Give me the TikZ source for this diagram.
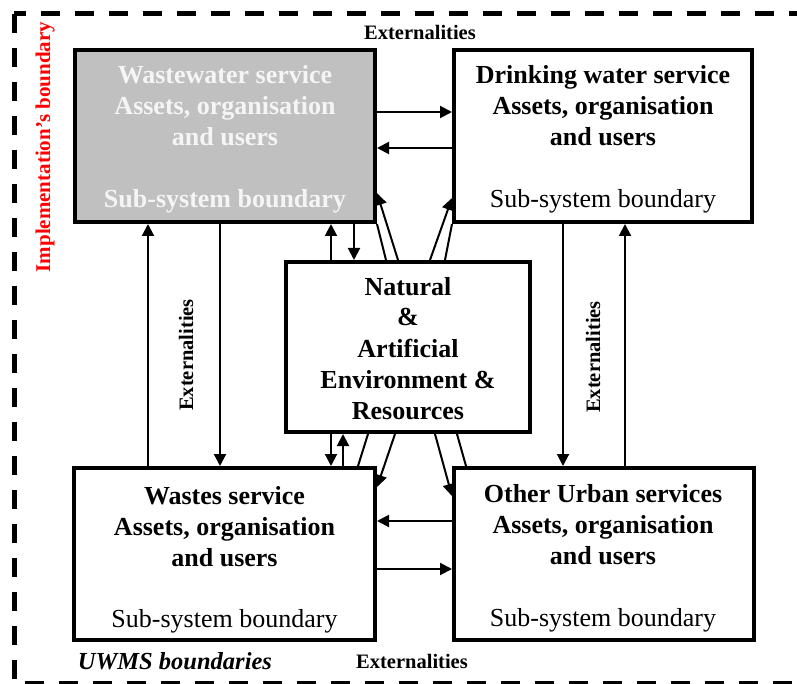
\documentclass[tikz,border=0pt]{standalone}
\usepackage{fontspec}
\setmainfont{Liberation Serif}
\usetikzlibrary{arrows.meta}
\definecolor{boxgray}{RGB}{192,192,192}
\definecolor{lighttext}{RGB}{245,245,245}
\begin{document}
\begin{tikzpicture}[x=1pt,y=-1pt,
  box/.style={draw, line width=4pt, inner sep=0pt, fill=white},
  big/.style={font=\fontsize{26}{31}\selectfont\bfseries, anchor=base, inner sep=0pt},
  small/.style={font=\fontsize{26}{31}\selectfont, anchor=base, inner sep=0pt},
  conn/.style={line width=2pt},
  arr/.style={line width=2pt, -{Triangle[length=12pt,width=12pt]}},
  ext/.style={font=\fontsize{20.5}{24}\selectfont\bfseries, inner sep=0pt}]
\useasboundingbox (0,0) rectangle (797,684);
\begin{scope}
\clip (0,0) rectangle (797,684);
\draw[line width=5pt, dash pattern=on 19pt off 15pt] (14,14) rectangle (830,683);
\end{scope}

% boxes
\node[box, fill=boxgray, minimum width=300pt, minimum height=172pt] (ww) at (225,136) {};
\node[box, minimum width=298pt, minimum height=172pt] (dw) at (603,136) {};
\node[box, minimum width=244pt, minimum height=170pt] (cen) at (408,347) {};
\node[box, minimum width=301pt, minimum height=172pt] (ws) at (224.5,554) {};
\node[box, minimum width=300pt, minimum height=172pt] (ou) at (604,554) {};

% texts
\node[big, text=lighttext] (ww1) at (225,84) {Wastewater service};
\node[big, text=lighttext] (ww2) at (225,115) {Assets, organisation};
\node[big, text=lighttext] (ww3) at (225,146) {and users};
\node[big, text=lighttext] (ww4) at (225,208) {Sub-system boundary};

\node[big] (dw1) at (603,84) {Drinking water service};
\node[big] (dw2) at (603,115) {Assets, organisation};
\node[big] (dw3) at (603,146) {and users};
\node[small] (dw4) at (603,208) {Sub-system boundary};

\node[big] (c1) at (408,295) {Natural};
\node[big] (c2) at (408,326) {\&};
\node[big] (c3) at (408,357) {Artificial};
\node[big] (c4) at (408,388) {Environment \&};
\node[big] (c5) at (408,419) {Resources};

\node[big] (ws1) at (224.5,504) {Wastes service};
\node[big] (ws2) at (224.5,535) {Assets, organisation};
\node[big] (ws3) at (224.5,566) {and users};
\node[small] (ws4) at (224.5,627) {Sub-system boundary};

\node[big] (ou1) at (603,502) {Other Urban services};
\node[big] (ou2) at (603,533) {Assets, organisation};
\node[big] (ou3) at (603,564) {and users};
\node[small] (ou4) at (603,626) {Sub-system boundary};

% labels
\node[ext, anchor=base] (extt) at (420,40) {Externalities};
\node[ext, anchor=base] (extb) at (412,668) {Externalities};
\node[ext, rotate=90] (extl) at (186,355) {Externalities};
\node[ext, rotate=90] (extr) at (593,357) {Externalities};
\node[font=\fontsize{21}{24}\selectfont\bfseries, text=red, rotate=90, inner sep=0pt] (impl) at (45,147) {Implementation’s boundary};
\node[font=\fontsize{24.5}{28}\selectfont\bfseries\itshape, anchor=base, inner sep=0pt] (uwms) at (175,669) {UWMS boundaries};

% horizontal connectors
\draw[arr] (ww.east |- 0,112) -- (dw.west |- 0,112);
\draw[arr] (dw.west |- 0,148) -- (ww.east |- 0,148);
\draw[arr] (ou.west |- 0,521) -- (ws.east |- 0,521);
\draw[arr] (ws.east |- 0,569) -- (ou.west |- 0,569);

% side vertical connectors
\draw[arr] (ws.north -| 148,0) -- (ww.south -| 148,0);
\draw[arr] (ww.south -| 220,0) -- (ws.north -| 220,0);
\draw[arr] (dw.south -| 563,0) -- (ou.north -| 563,0);
\draw[arr] (ou.north -| 625,0) -- (dw.south -| 625,0);

% centre vertical connectors
\draw[arr] (cen.north -| 331,0) -- (ww.south -| 331,0);
\draw[arr] (ww.south -| 354,0) -- (cen.north -| 354,0);
\draw[arr] (cen.south -| 331,0) -- (ws.north -| 331,0);
\draw[arr] (ws.north -| 343,0) -- (cen.south -| 343,0);

% diagonal connectors
\draw[conn] (ww.south east) -- (cen.north -| 386,0);
\draw[arr] (cen.north -| 398,0) -- (ww.east |- 0,193);
\draw[arr] (cen.north -| 430,0) -- (dw.west |- 0,198);
\draw[conn] (cen.north -| 445,0) -- (dw.south west);
\draw[conn] (cen.south -| 368,0) -- (ws.north -| 358,0);
\draw[arr] (cen.south -| 395,0) -- (ws.east |- 0,487);
\draw[arr] (cen.south -| 435,0) -- (ou.west |- 0,496);
\draw[conn] (cen.south -| 457,0) -- (ou.north -| 466,0);
\end{tikzpicture}
\end{document}
